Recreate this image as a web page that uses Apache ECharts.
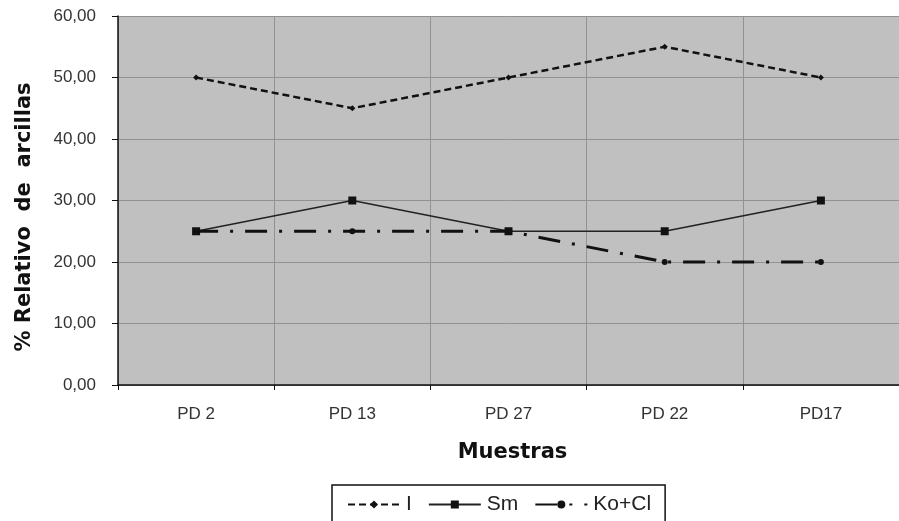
<!DOCTYPE html>
<html>
<head>
<meta charset="utf-8">
<script src="https://cdn.jsdelivr.net/npm/echarts@6/dist/echarts.min.js"></script>
<style>
  html, body { margin: 0; padding: 0; background: #fff; }
  #chart { width: 899px; height: 521px; }
</style>
</head>
<body>
<div id="chart"></div>
<script>
// Samples along the x axis
const muestras = ['PD 2', 'PD 13', 'PD 27', 'PD 22', 'PD17'];
// Relative clay percentages per mineral group
const illita = [50, 45, 50, 55, 50];
const esmectita = [25, 30, 25, 25, 30];
const caolinitaClorita = [25, 25, 25, 20, 20];

const fmt = v => v.toFixed(2).replace('.', ',');
const font = 'Liberation Sans, Arial, sans-serif';
const titleFont = 'DejaVu Sans, sans-serif';

const chart = echarts.init(document.getElementById('chart'), null, { renderer: 'canvas' });
chart.setOption({
  animation: false,
  backgroundColor: '#ffffff',
  grid: {
    left: 118, width: 785, top: 16, bottom: 136,
    show: true, backgroundColor: '#c0c0c0', borderWidth: 0
  },
  xAxis: {
    type: 'category',
    data: muestras,
    boundaryGap: true,
    name: 'Muestras',
    nameLocation: 'middle',
    nameGap: 57,
    nameTextStyle: { fontFamily: titleFont, fontSize: 21, fontWeight: 'bold', color: '#111', padding: [0, 0, 0, 8] },
    axisLine: { lineStyle: { color: '#111', width: 1.5 } },
    axisTick: { show: true, length: 5, lineStyle: { color: '#111' } },
    axisLabel: { fontFamily: font, fontSize: 17, color: '#333', margin: 21 },
    splitLine: { show: true, lineStyle: { color: '#929292', width: 1 } }
  },
  yAxis: {
    type: 'value',
    min: 0, max: 60, interval: 10,
    axisLine: { show: true, lineStyle: { color: '#111', width: 1.5 } },
    axisTick: { show: true, inside: false, length: 6, lineStyle: { color: '#111' } },
    axisLabel: { fontFamily: font, fontSize: 17, color: '#333', margin: 22, formatter: fmt },
    splitLine: { show: true, lineStyle: { color: '#929292', width: 1 } }
  },
  graphic: [{
    type: 'text',
    x: 25, y: 217,
    rotation: Math.PI / 2,
    style: {
      text: '% Relativo  de  arcillas',
      fontFamily: titleFont, fontSize: 21, fontWeight: 'bold',
      fill: '#111', align: 'center', verticalAlign: 'middle'
    }
  }],
  legend: {
    left: 332, top: 485,
    width: 360,
    padding: [9, 14, 14, 15],
    borderColor: '#111', borderWidth: 1.5,
    backgroundColor: '#fff',
    itemWidth: 52, itemHeight: 10, itemGap: 16,
    textStyle: { fontFamily: font, fontSize: 21, color: '#222', padding: [0, 0, 0, 1] },
    data: ['I', 'Sm', 'Ko+Cl']
  },
  series: [
    {
      name: 'I', type: 'line', data: illita,
      symbol: 'diamond', symbolSize: 6,
      itemStyle: { color: '#111' },
      lineStyle: { color: '#111', width: 2.5, type: [7, 4] }
    },
    {
      name: 'Sm', type: 'line', data: esmectita,
      symbol: 'rect', symbolSize: 8,
      itemStyle: { color: '#111' },
      lineStyle: { color: '#222', width: 1.5, type: 'solid' }
    },
    {
      name: 'Ko+Cl', type: 'line', data: caolinitaClorita,
      symbol: 'circle', symbolSize: 6,
      itemStyle: { color: '#111' },
      lineStyle: { color: '#111', width: 3, type: [22, 12, 3, 12] }
    }
  ]
});
</script>
</body>
</html>
